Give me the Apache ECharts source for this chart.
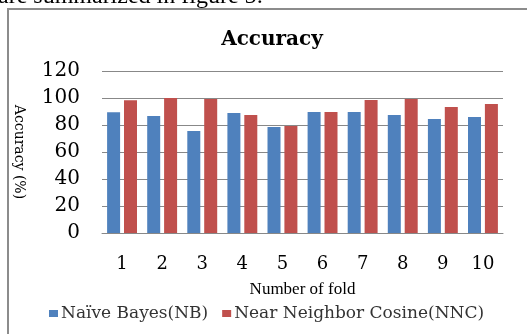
<!DOCTYPE html>
<html>
<head>
<meta charset="utf-8">
<script src="https://cdn.jsdelivr.net/npm/echarts@6/dist/echarts.min.js"></script>
<style>
  html, body { margin: 0; padding: 0; background: #fff; }
  #chart { width: 527px; height: 334px; }
</style>
</head>
<body>
<div id="chart"></div>
<script>
// folds on the x axis
var folds = ["1", "2", "3", "4", "5", "6", "7", "8", "9", "10"];
// accuracy values (%)
var nbValues = [89.4, 86.7, 75.5, 88.9, 78.5, 89.6, 89.6, 87.4, 84.4, 85.9];
var nncValues = [98.3, 100, 99.3, 87.4, 79.3, 89.6, 98.5, 99.3, 93.3, 95.6];
var seriesNames = ["Naïve Bayes(NB)", "Near Neighbor Cosine(NNC)"];

var chart = echarts.init(document.getElementById("chart"));

var option = {
    animation: false,
    backgroundColor: "#fff",
    color: ["#4F81BD", "#C0504D"],
    title: {
        text: "Accuracy",
        left: 267,
        textAlign: "center",
        top: 25,
        textStyle: {
            fontFamily: "DejaVu Serif",
            fontWeight: "bold",
            fontSize: 20,
            color: "#000"
        }
    },
    graphic: [
        {
            type: "text",
            left: -2,
            top: -15,
            style: {
                text: "are summarized in figure 5:",
                font: "24px 'Liberation Serif'",
                fill: "#000"
            }
        },
        {
            type: "rect",
            shape: { x: 8, y: 9, width: 530, height: 340 },
            style: { fill: "none", stroke: "#8c8c8c", lineWidth: 2 }
        }
    ],
    legend: {
        data: seriesNames,
        bottom: 7,
        left: 44,
        itemWidth: 9,
        itemHeight: 7,
        itemGap: 14,
        icon: "rect",
        textStyle: {
            fontFamily: "DejaVu Serif",
            fontSize: 17,
            color: "#333",
            padding: [0, 0, 0, -2]
        }
    },
    grid: {
        left: 102,
        right: 24,
        top: 71,
        bottom: 101
    },
    xAxis: {
        type: "category",
        data: folds,
        name: "Number of fold",
        nameLocation: "middle",
        nameGap: 48,
        nameTextStyle: {
            fontFamily: "Liberation Serif",
            fontSize: 17,
            color: "#000"
        },
        axisTick: { show: false },
        axisLine: { lineStyle: { color: "#888", width: 1 } },
        axisLabel: {
            margin: 22,
            fontFamily: "DejaVu Serif",
            fontSize: 18,
            color: "#000"
        }
    },
    yAxis: {
        type: "value",
        min: 0,
        max: 120,
        interval: 20,
        name: "Accuracy (%)",
        nameLocation: "middle",
        nameRotate: -90,
        nameGap: 76,
        nameTextStyle: {
            fontFamily: "DejaVu Serif",
            fontSize: 14,
            color: "#000"
        },
        axisLine: { show: false },
        axisTick: { show: false },
        splitLine: { lineStyle: { color: "#888", width: 1 } },
        axisLabel: {
            margin: 22,
            fontFamily: "DejaVu Serif",
            fontSize: 20,
            color: "#000"
        }
    },
    series: [
        {
            name: seriesNames[0],
            type: "bar",
            data: nbValues,
            barWidth: 13,
            barGap: "30%"
        },
        {
            name: seriesNames[1],
            type: "bar",
            data: nncValues,
            barWidth: 13,
            barGap: "30%"
        }
    ]
};

chart.setOption(option);
</script>
</body>
</html>
